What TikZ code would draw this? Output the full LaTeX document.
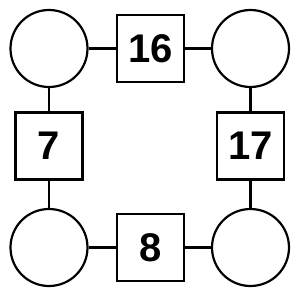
\documentclass[tikz,border=0pt]{standalone}
\usepackage{fontspec}
\setmainfont{Liberation Sans}
\begin{document}
\begin{tikzpicture}[x=1pt,y=-1pt,
  circ/.style={draw,circle,line width=2.2pt,minimum size=77pt,inner sep=0pt},
  sq/.style={draw,rectangle,line width=2.2pt,minimum size=67pt,inner sep=0pt,font=\fontsize{40}{40}\selectfont\bfseries},
  conn/.style={line width=2.2pt}]
\useasboundingbox[fill=white] (0,0) rectangle (300,300);
\node[circ] (c1) at (49,48.5) {};
\node[circ] (c2) at (250.5,48.5) {};
\node[circ] (c3) at (49,247.5) {};
\node[circ] (c4) at (250.5,247.5) {};
\node[sq] (s1) at (150.5,48.5) {16};
\node[sq] (s2) at (49,146) {7};
\node[sq] (s3) at (250.5,146) {17};
\node[sq] (s4) at (150.5,247.5) {8};
\draw[conn] (c1) -- (s1);
\draw[conn] (s1) -- (c2);
\draw[conn] (c1) -- (s2);
\draw[conn] (s2) -- (c3);
\draw[conn] (c2) -- (s3);
\draw[conn] (s3) -- (c4);
\draw[conn] (c3) -- (s4);
\draw[conn] (s4) -- (c4);
\end{tikzpicture}
\end{document}
